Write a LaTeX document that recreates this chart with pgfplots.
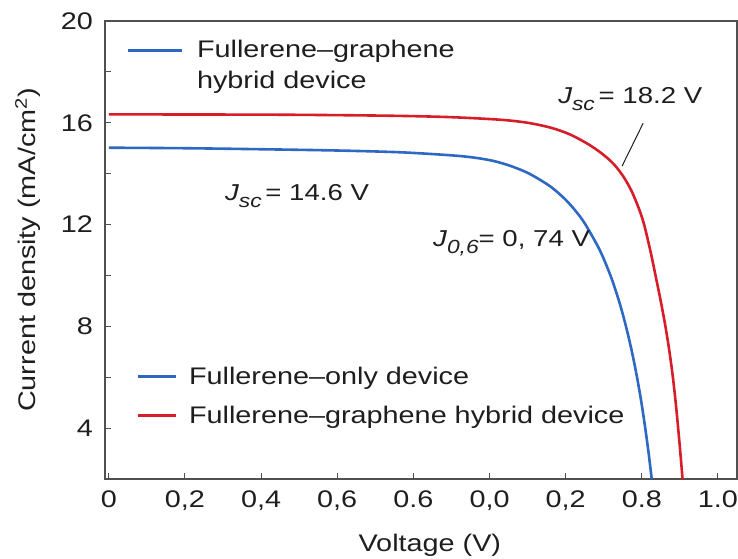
\documentclass[border=0pt]{standalone}
\usepackage{pgfplots}
\pgfplotsset{compat=1.18}
\usepackage{fontspec}
\setmainfont{Liberation Sans}[FakeStretch=1.2]
\definecolor{cblue}{RGB}{45,105,195}
\definecolor{cred}{RGB}{215,30,40}
\definecolor{axgray}{RGB}{80,80,80}
\definecolor{txt}{RGB}{30,30,30}
\newcommand{\bigf}{\fontsize{24bp}{28bp}\selectfont}
\newcommand{\annf}{\fontsize{23bp}{27bp}\selectfont}
\newcommand{\subf}[1]{\raisebox{-7bp}{\fontsize{19bp}{21bp}\selectfont\itshape #1}}
\begin{document}
\begin{tikzpicture}
\useasboundingbox (-105bp,-80bp) rectangle (633bp,479bp);
\begin{axis}[
  at={(0,0)}, anchor=south west, scale only axis,
  width=632bp, height=458bp,
  xmin=-0.05, xmax=8.25, ymin=2, ymax=20,
  axis line style={axgray, line width=1.3bp},
  tick align=inside, major tick length=6bp, minor tick length=6bp,
  every tick/.style={axgray, line width=1bp},
  xtick pos=bottom, ytick pos=left,
  xtick={0,1,2,3,4,5,6,7,8},
  xticklabels={0,{0,2},{0,4},{0,6},0.6,{0,0},{0,2},0.8,1.0},
  ytick={4,8,12,16,20}, minor ytick={6,10,14,18},
  /pgf/number format/assume math mode=true,
  xticklabel style={font=\bigf, text=txt, inner sep=0pt, anchor=north, yshift=-12bp},
  yticklabel style={font=\bigf, text=txt, inner sep=0pt, anchor=east, xshift=-12bp},
  xlabel={Voltage (V)},
  ylabel={Current density (mA/cm\textsuperscript{2})},
  xlabel style={font=\bigf, text=txt, at={(axis description cs:0.514,-0.144)}, anchor=center, inner sep=0pt},
  ylabel style={font=\bigf, text=txt, at={(axis description cs:-0.1218,0.5)}, anchor=center, inner sep=0pt},
  clip=true,
]
\addplot[cblue, line width=2.6bp, smooth, tension=0.5] coordinates {
 (0,15.02) (1,15.00) (2,14.96) (3,14.91) (3.83,14.84) (4.5,14.72) (4.8,14.63)
 (5.051,14.5) (5.279,14.3) (5.522,14.0) (5.797,13.5) (5.991,13.0) (6.140,12.5)
 (6.260,12.0) (6.447,11.0) (6.588,10.0) (6.700,9.0) (6.792,8.0) (6.870,7.0)
 (6.937,6.0) (6.995,5.0) (7.045,4.0) (7.090,3.0) (7.130,2.0)
};
\addplot[cred, line width=2.6bp, smooth, tension=0.5] coordinates {
 (0,16.33) (2,16.32) (3,16.30) (3.83,16.27) (4.5,16.22) (5.14,16.12) (5.5,16.0)
 (5.80,15.81) (6.05,15.55) (6.29,15.17) (6.48,14.78) (6.63,14.38) (6.755,13.9)
 (6.865,13.32) (6.965,12.6) (7.03,12.0) (7.11,11.0) (7.18,10.0) (7.248,9.0)
 (7.31,8.0) (7.363,7.0) (7.408,6.0) (7.445,5.0) (7.477,4.0) (7.507,3.0) (7.535,2.0)
};
% top legend-like label
\draw[cblue, line width=2.6bp] (axis cs:0.25,18.85) -- (axis cs:0.959,18.85);
\node[font=\bigf, text=txt, anchor=base west, inner sep=0pt] at (axis cs:1.156,18.58) {Fullerene–graphene};
\node[font=\bigf, text=txt, anchor=base west, inner sep=0pt] at (axis cs:1.156,17.36) {hybrid device};
% bottom legend
\draw[cblue, line width=2.6bp] (axis cs:0.381,6.02) -- (axis cs:0.880,6.02);
\node[font=\bigf, text=txt, anchor=base west, inner sep=0pt] at (axis cs:1.051,5.70) {Fullerene–only device};
\draw[cred, line width=2.6bp] (axis cs:0.381,4.49) -- (axis cs:0.880,4.49);
\node[font=\bigf, text=txt, anchor=base west, inner sep=0pt] at (axis cs:1.051,4.17) {Fullerene–graphene hybrid device};
% annotations
\node[font=\annf, text=txt, anchor=base west, inner sep=0pt] at (axis cs:1.524,12.94) {\itshape J\upshape\subf{sc}\,= 14.6 V};
\node[font=\annf, text=txt, anchor=base west, inner sep=0pt] at (axis cs:4.258,11.12) {\itshape J\upshape\subf{0,6}= 0, 74 V};
\node[font=\annf, text=txt, anchor=base west, inner sep=0pt] at (axis cs:5.90,16.77) {\itshape J\upshape\subf{sc}\,= 18.2 V};
\draw[txt, line width=1bp] (axis cs:7.017,15.98) -- (axis cs:6.741,14.30);
\end{axis}
\end{tikzpicture}
\end{document}
